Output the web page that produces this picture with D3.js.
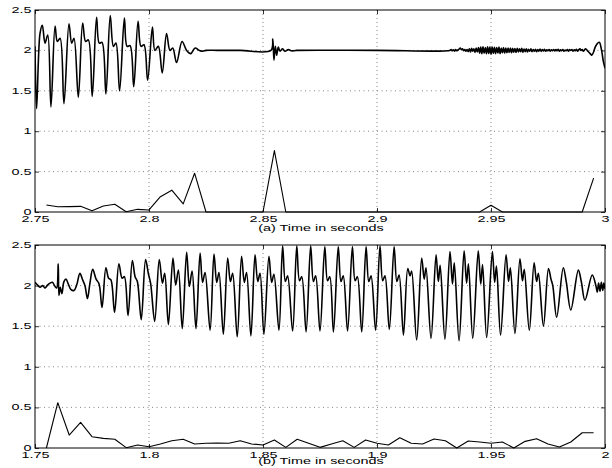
<!DOCTYPE html>
<html><head><meta charset="utf-8">
<script src="https://cdn.jsdelivr.net/npm/d3@7"></script>
<style>body{margin:0;background:#fff}svg{display:block}text{font-family:"Liberation Sans",Arial,sans-serif;font-size:9px;fill:#000}</style>
</head><body>
<svg id="c" width="612" height="468"></svg>
<script>
// ---- tick labels ----
const topXTicks = [2.75, 2.8, 2.85, 2.9, 2.95, 3.0];
const topXLabels = ["2.75", "2.8", "2.85", "2.9", "2.95", "3"];
const botXTicks = [1.75, 1.8, 1.85, 1.9, 1.95, 2.0];
const botXLabels = ["1.75", "1.8", "1.85", "1.9", "1.95", "2"];
const yTicks = [0, 0.5, 1, 1.5, 2, 2.5];
const yLabels = ["0", "0.5", "1", "1.5", "2", "2.5"];
const topTitle = "(a) Time in seconds";
const botTitle = "(b) Time in seconds";

// ---- panel (a) signal ----
const topSignal = [
[2.7500,2.05],[2.7507,1.28],[2.7522,2.21],[2.7532,2.31],[2.7544,2.09],[2.7556,2.19],[2.7570,1.30],
[2.7588,2.30],[2.7598,2.11],[2.7610,2.15],[2.7627,1.34],
[2.7649,2.33],[2.7661,2.09],[2.7671,2.15],[2.7690,1.42],
[2.7709,2.34],[2.7722,2.11],[2.7734,2.13],[2.7751,1.43],
[2.7770,2.41],[2.7782,2.09],[2.7794,2.10],[2.7811,1.46],
[2.7830,2.43],[2.7844,2.05],[2.7855,2.09],[2.7871,1.50],
[2.7892,2.40],[2.7904,2.05],[2.7917,2.06],[2.7933,1.55],
[2.7952,2.36],[2.7965,2.05],[2.7978,2.07],[2.7994,1.63],
[2.8015,2.29],[2.8026,2.00],[2.8041,2.05],[2.8058,1.72],
[2.8077,2.21],[2.8092,2.00],[2.8104,2.03],[2.8121,1.85],
[2.8145,2.11],[2.8165,2.00],[2.8183,1.96],[2.8202,2.03],[2.8221,2.00],
[2.8235,1.99],[2.8250,2.00],[2.8300,2.00],[2.8400,2.00],[2.8535,2.00],
[2.8543,2.14],[2.8548,1.88],[2.8554,2.05],[2.8560,1.94],[2.8567,2.04],[2.8575,1.99],[2.8585,2.02],[2.8597,1.99],[2.8611,2.01],[2.8626,1.995],[2.8648,2.00],
[2.9000,2.00],[2.9320,2.00],
[2.9325,2.01],[2.9330,1.995],[2.9335,2.008],[2.9340,1.99],[2.9345,2.012],[2.9350,1.995],[2.9355,2.005],[2.9360,2.015],[2.9365,2.03],[2.9370,2.01],
[2.9375,2.02],[2.9380,1.995],[2.9385,2.012],[2.9390,1.99],[2.9395,2.01],[2.9400,1.985],[2.9405,2.02],[2.9410,1.98],[2.9415,2.025],[2.9420,1.99],
[2.9425,2.02],[2.9430,1.975],[2.9435,2.03],[2.9440,1.98],[2.9445,2.035],[2.9450,1.965],[2.9455,2.04],[2.9460,1.96],[2.9465,2.045],[2.9470,1.965],
[2.9475,2.035],[2.9480,1.958],[2.9485,2.045],[2.9490,1.962],[2.9495,2.04],[2.9500,1.955],[2.9505,2.042],[2.9510,1.965],[2.9515,2.038],[2.9520,1.96],
[2.9525,2.035],[2.9530,1.968],[2.9535,2.04],[2.9540,1.962],[2.9545,2.03],[2.9550,1.97],[2.9555,2.035],[2.9560,1.965],[2.9565,2.03],[2.9570,1.972],
[2.9575,2.028],[2.9580,1.975],[2.9585,2.03],[2.9590,1.97],[2.9595,2.025],[2.9600,1.978],[2.9605,2.022],[2.9610,1.975],[2.9615,2.025],[2.9620,1.98],
[2.9625,2.02],[2.9630,1.985],[2.9635,2.025],[2.9640,1.978],[2.9645,2.018],[2.9650,1.985],[2.9655,2.02],[2.9660,1.98],[2.9665,2.015],[2.9670,1.99],
[2.9675,2.02],[2.9680,1.985],[2.9685,2.012],[2.9690,1.99],[2.9695,2.015],[2.9700,1.985],[2.9705,2.01],[2.9710,1.99],[2.9715,2.018],[2.9720,1.988],
[2.9725,2.01],[2.9730,1.992],[2.9735,2.015],[2.9740,1.99],[2.9745,2.008],[2.9750,1.995],[2.9755,2.012],[2.9760,1.99],[2.9765,2.008],[2.9770,1.995],
[2.9775,2.012],[2.9780,1.992],[2.9785,2.01],[2.9790,1.995],[2.9795,2.015],[2.9800,1.99],[2.9805,2.008],[2.9810,1.995],[2.9815,2.01],[2.9820,1.99],
[2.9825,2.005],[2.9830,1.995],[2.9835,2.012],[2.9840,1.99],[2.9845,2.01],[2.9850,2.0],[2.9855,2.012],[2.9860,1.99],[2.9865,2.008],[2.9870,1.995],
[2.9875,2.015],[2.9880,1.99],[2.9885,2.01],[2.9890,2.02],[2.9895,2.0],[2.9900,2.01],[2.9905,1.99],[2.9910,2.005],[2.9915,2.02],[2.9925,1.99],
[2.9935,1.96],[2.9942,1.94],[2.9950,1.98],[2.9957,2.04],[2.9965,2.08],[2.9975,2.10],[2.9985,2.00],[2.9993,1.86],[3.0000,1.78]
];
// ---- panel (a) lower trace ----
const topLower = [
[2.755,0.087],[2.760,0.065],[2.765,0.066],[2.770,0.070],[2.775,0.016],[2.780,0.074],[2.785,0.095],[2.790,0.004],
[2.795,0.033],[2.800,0.025],[2.805,0.19],[2.810,0.27],[2.815,0.10],[2.820,0.48],[2.825,0.0],[2.830,0.0],[2.835,0.0],
[2.840,0.0],[2.845,0.0],[2.850,0.0],[2.855,0.76],[2.860,0.0],[2.865,0.0],[2.870,0.0],[2.875,0.0],[2.880,0.0],[2.885,0.0],
[2.890,0.0],[2.895,0.0],[2.900,0.0],[2.905,0.0],[2.910,0.0],[2.915,0.0],[2.920,0.0],[2.925,0.0],[2.930,0.0],[2.935,0.0],
[2.940,0.0],[2.945,0.0],[2.950,0.083],[2.955,0.0],[2.960,0.0],[2.965,0.0],[2.970,0.0],[2.975,0.0],[2.980,0.0],[2.985,0.0],
[2.990,0.0],[2.995,0.42]
];
// ---- panel (b) signal ----
const botSignal = [
[1.7500,2.04],[1.7510,2.01],[1.7522,1.98],[1.7534,2.00],[1.7544,1.97],[1.7556,2.01],[1.7566,2.03],[1.7576,2.04],[1.7588,1.99],[1.7595,1.97],
[1.7602,2.27],[1.7605,1.88],[1.7611,1.98],[1.7618,1.90],[1.7627,2.05],[1.7636,2.08],[1.7646,2.02],[1.7658,1.95],[1.7671,1.94],[1.7683,2.01],
[1.7697,2.15],[1.7709,2.07],[1.7719,2.00],[1.7730,1.84],
[1.7741,2.03],[1.7753,2.20],[1.7768,2.08],[1.7781,2.02],[1.7794,1.73],
[1.7811,2.22],[1.7823,2.09],[1.7833,2.07],[1.7849,1.67],
[1.7868,2.27],[1.7882,2.09],[1.7892,2.11],[1.7908,1.63],
[1.7927,2.31],[1.7939,2.11],[1.7949,2.05],[1.7966,1.58],
[1.7985,2.32],[1.7997,2.15],[1.8007,2.03],[1.8025,1.56],
[1.8045,2.32],[1.8059,2.03],[1.8069,2.15],[1.8085,1.52],
[1.8105,2.34],[1.8117,2.01],[1.8129,2.19],[1.8146,1.47],
[1.8165,2.41],[1.8177,1.99],[1.8189,2.18],[1.8206,1.47],
[1.8224,2.40],[1.8235,2.04],[1.8246,2.16],[1.8268,1.45],
[1.8285,2.39],[1.8297,2.04],[1.8307,2.16],[1.8326,1.40],
[1.8345,2.34],[1.8357,2.05],[1.8367,2.15],[1.8387,1.37],
[1.8406,2.36],[1.8418,2.04],[1.8428,2.16],[1.8447,1.38],
[1.8465,2.38],[1.8477,2.05],[1.8487,2.15],[1.8504,1.40],
[1.8526,2.36],[1.8538,2.04],[1.8548,2.14],[1.8570,1.45],
[1.8586,2.49],[1.8598,2.05],[1.8608,2.12],[1.8630,1.44],
[1.8648,2.49],[1.8660,2.06],[1.8670,2.11],[1.8689,1.43],
[1.8709,2.49],[1.8721,2.05],[1.8731,2.12],[1.8750,1.44],
[1.8771,2.48],[1.8783,2.06],[1.8793,2.11],[1.8809,1.43],
[1.8830,2.48],[1.8842,2.05],[1.8852,2.12],[1.8871,1.44],
[1.8892,2.48],[1.8904,2.06],[1.8914,2.11],[1.8933,1.43],
[1.8952,2.48],[1.8964,2.05],[1.8974,2.12],[1.8994,1.45],
[1.9013,2.49],[1.9025,2.06],[1.9035,2.12],[1.9054,1.46],
[1.9075,2.48],[1.9087,2.05],[1.9097,2.13],[1.9116,1.39],
[1.9135,2.21],[1.9145,2.12],[1.9152,2.18],[1.9174,1.33],
[1.9196,2.34],[1.9207,2.08],[1.9215,2.22],[1.9237,1.35],
[1.9259,2.38],[1.9269,2.05],[1.9277,2.25],[1.9298,1.34],
[1.9320,2.42],[1.9331,2.02],[1.9339,2.28],[1.9360,1.32],
[1.9382,2.43],[1.9393,2.03],[1.9401,2.27],[1.9420,1.35],
[1.9444,2.43],[1.9455,2.02],[1.9463,2.26],[1.9481,1.36],
[1.9506,2.42],[1.9516,2.04],[1.9524,2.24],[1.9542,1.39],
[1.9566,2.38],[1.9577,2.05],[1.9585,2.22],[1.9605,1.41],
[1.9627,2.33],[1.9638,2.06],[1.9646,2.20],[1.9668,1.45],
[1.9689,2.28],[1.9700,2.05],[1.9708,2.15],[1.9730,1.50],
[1.9752,2.21],[1.9763,2.08],[1.9771,2.00],[1.9788,1.61],
[1.9817,2.22],[1.9830,2.05],[1.9850,1.70],
[1.9883,2.19],[1.9896,2.05],[1.9912,1.82],
[1.9944,2.13],[1.9960,2.00],[1.9966,1.92],[1.9972,2.03],[1.9978,1.93],[1.9984,2.04],[1.9990,1.94],[1.9995,2.03],[2.0000,1.96]
];
// ---- panel (b) lower trace ----
const botLower = [
[1.755,0.0],[1.760,0.558],[1.765,0.16],[1.770,0.316],[1.775,0.139],[1.780,0.119],[1.785,0.107],[1.790,0.004],
[1.795,0.037],[1.800,0.016],[1.805,0.05],[1.810,0.09],[1.815,0.107],[1.820,0.05],[1.825,0.058],[1.830,0.06],
[1.835,0.058],[1.840,0.09],[1.845,0.05],[1.850,0.037],[1.855,0.099],[1.860,0.008],[1.865,0.107],[1.870,0.058],
[1.875,0.008],[1.880,0.05],[1.885,0.09],[1.890,0.008],[1.895,0.099],[1.900,0.058],[1.905,0.037],[1.910,0.127],
[1.915,0.058],[1.920,0.05],[1.925,0.111],[1.930,0.09],[1.935,0.0],[1.940,0.086],[1.945,0.074],[1.950,0.058],
[1.955,0.074],[1.960,0.0],[1.965,0.082],[1.970,0.115],[1.975,0.05],[1.980,0.012],[1.985,0.074],[1.990,0.188],[1.995,0.188]
];

const svg = d3.select("#c");
const SX = 1.6;

function panel(id, top, bottom, xTicks, xLabels, title, titleGap, signal, lower) {
  const left = 35, right = 605;
  const x = d3.scaleLinear().domain([xTicks[0], xTicks[xTicks.length-1]]).range([left, right]);
  const y = d3.scaleLinear().domain([0, 2.5]).range([bottom, top]);
  const g = svg.append("g");
  g.append("clipPath").attr("id", id).append("rect")
    .attr("x", left).attr("y", top - 1).attr("width", right-left).attr("height", bottom-top + 2);
  // grid
  g.append("g").selectAll("line").data(xTicks.slice(1, -1)).join("line")
    .attr("x1", d => x(d)).attr("x2", d => x(d)).attr("y1", top).attr("y2", bottom)
    .attr("stroke", "#777").attr("stroke-width", 0.9).attr("stroke-dasharray", "1,3");
  g.append("g").selectAll("line").data(yTicks.slice(1, -1)).join("line")
    .attr("y1", d => y(d)).attr("y2", d => y(d)).attr("x1", left).attr("x2", right)
    .attr("stroke", "#777").attr("stroke-width", 0.9).attr("stroke-dasharray", "1,3.5");
  // axes (inward ticks)
  const ax = g.append("g").attr("transform", `translate(0,${bottom})`)
    .call(d3.axisBottom(x).tickValues(xTicks).tickSize(-4).tickSizeOuter(0).tickFormat((d,i) => xLabels[i]));
  ax.selectAll("text").attr("y", 10).attr("dy", 0).attr("transform", `scale(${SX},1)`);
  g.append("g").attr("transform", `translate(0,${top})`)
    .call(d3.axisTop(x).tickValues(xTicks).tickSize(-4).tickSizeOuter(0).tickFormat(""));
  const ay = g.append("g").attr("transform", `translate(${left},0)`)
    .call(d3.axisLeft(y).tickValues(yTicks).tickSize(-4).tickSizeOuter(0).tickFormat((d,i) => yLabels[i]));
  ay.selectAll("text").attr("x", -3.5/SX).attr("dy", "0.28em").attr("transform", `scale(${SX},1)`);
  g.append("g").attr("transform", `translate(${right},0)`)
    .call(d3.axisRight(y).tickValues(yTicks).tickSize(-4).tickSizeOuter(0).tickFormat(""));
  g.selectAll(".domain").remove();
  g.selectAll(".tick line").attr("stroke", "#000").attr("stroke-width", 0.8);
  g.selectAll(".tick text").style("font-family", '"Liberation Sans",Arial,sans-serif').style("font-size", "9px").attr("fill", "#000");
  // box
  g.append("rect").attr("x", left).attr("y", top).attr("width", right-left).attr("height", bottom-top)
    .attr("fill", "none").attr("stroke", "#000").attr("stroke-width", 1);
  // data
  const line = d3.line().x(d => x(d[0])).y(d => y(d[1]));
  g.append("path").datum(signal).attr("clip-path", `url(#${id})`)
    .attr("d", line.curve(d3.curveCatmullRom.alpha(0.5))).attr("fill", "none").attr("stroke", "#000")
    .attr("stroke-width", 1.6).attr("stroke-linejoin", "round");
  g.append("path").datum(lower).attr("clip-path", `url(#${id})`)
    .attr("d", d3.line().x(d => x(d[0])).y(d => y(d[1]))).attr("fill", "none").attr("stroke", "#000")
    .attr("stroke-width", 1.1).attr("stroke-linejoin", "round");
  // title
  g.append("text").attr("transform", `translate(${(left+right)/2+1},${bottom+titleGap}) scale(${SX},1)`)
    .attr("text-anchor", "middle").text(title);
}

panel("clipA", 10, 212, topXTicks, topXLabels, topTitle, 19, topSignal, topLower);
panel("clipB", 245, 448, botXTicks, botXLabels, botTitle, 15.5, botSignal, botLower);
</script>
</body></html>
